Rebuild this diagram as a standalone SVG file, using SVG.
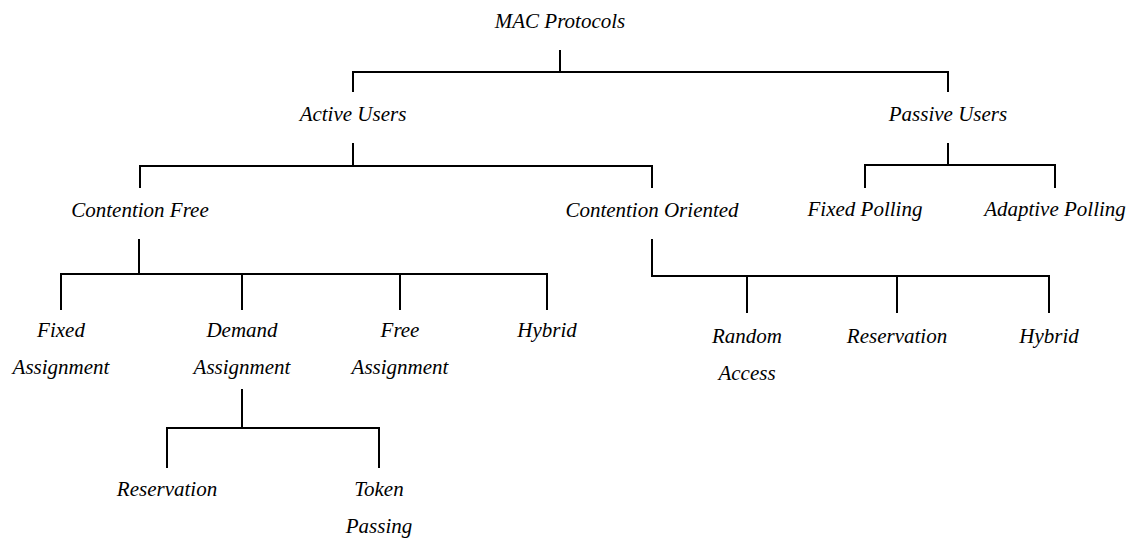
<svg xmlns="http://www.w3.org/2000/svg" width="1138" height="539" viewBox="0 0 1138 539">
  <style>
    .lbl { font-family: "Liberation Serif", "Times New Roman", serif; font-style: italic; font-size: 21px; fill: #000; text-anchor: middle; }
    .wire { fill: none; stroke: #000; stroke-width: 2; }
  </style>
  <rect width="1138" height="539" fill="#fff"/>

  <!-- tree connectors -->
  <g id="connectors" class="wire">
    <path d="M560 50 V72 M353 92 V72 H948 V92"/>
    <path d="M353 143 V166 M140 188 V166 H652 V188"/>
    <path d="M948 143 V165 M865 188 V165 H1055 V188"/>
    <path d="M139 239 V274 M61 310 V274 H547 V310 M242 274 V310 M400 274 V310"/>
    <path d="M652 239 V276 H1049 V313 M747 276 V313 M897 276 V313"/>
    <path d="M242 389 V428 M167 468 V428 H379 V468"/>
  </g>

  <g id="mac-protocols"><text class="lbl" x="560" y="28">MAC Protocols</text></g>
  <g id="active-users"><text class="lbl" x="353" y="121">Active Users</text></g>
  <g id="passive-users"><text class="lbl" x="948" y="121">Passive Users</text></g>
  <g id="contention-free"><text class="lbl" x="140" y="217">Contention Free</text></g>
  <g id="contention-oriented"><text class="lbl" x="652" y="217">Contention Oriented</text></g>
  <g id="fixed-polling"><text class="lbl" x="865" y="216">Fixed Polling</text></g>
  <g id="adaptive-polling"><text class="lbl" x="1055" y="216">Adaptive Polling</text></g>

  <g id="fixed-assignment"><text class="lbl" x="61" y="337">Fixed</text><text class="lbl" x="61" y="374">Assignment</text></g>
  <g id="demand-assignment"><text class="lbl" x="242" y="337">Demand</text><text class="lbl" x="242" y="374">Assignment</text></g>
  <g id="free-assignment"><text class="lbl" x="400" y="337">Free</text><text class="lbl" x="400" y="374">Assignment</text></g>
  <g id="hybrid-cf"><text class="lbl" x="547" y="337">Hybrid</text></g>

  <g id="random-access"><text class="lbl" x="747" y="343">Random</text><text class="lbl" x="747" y="380">Access</text></g>
  <g id="reservation-co"><text class="lbl" x="897" y="343">Reservation</text></g>
  <g id="hybrid-co"><text class="lbl" x="1049" y="343">Hybrid</text></g>

  <g id="reservation-da"><text class="lbl" x="167" y="496">Reservation</text></g>
  <g id="token-passing"><text class="lbl" x="379" y="496">Token</text><text class="lbl" x="379" y="533">Passing</text></g>
</svg>
